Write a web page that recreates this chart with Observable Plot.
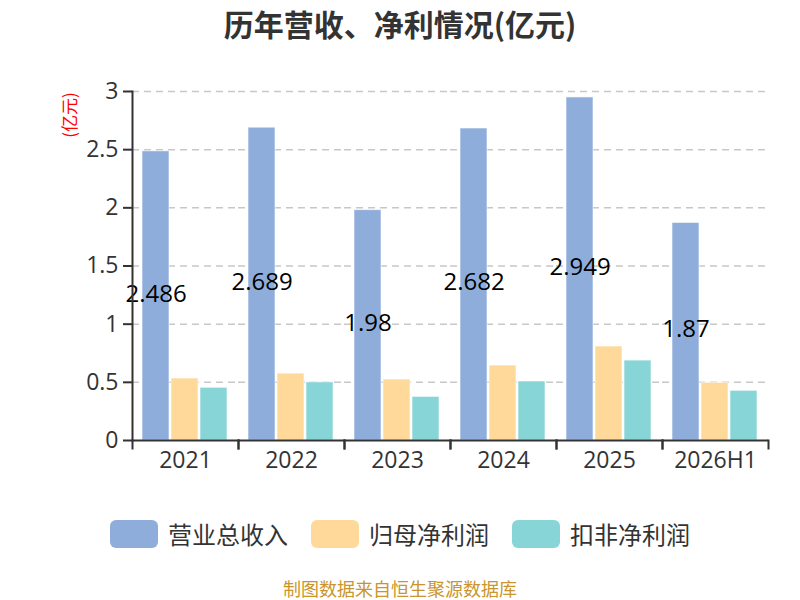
<!DOCTYPE html>
<html><head><meta charset="utf-8">
<script src="https://cdn.jsdelivr.net/npm/d3@7"></script>
<script src="https://cdn.jsdelivr.net/npm/@observablehq/plot@0.6"></script>
<style>
body{margin:0;width:800px;height:600px;position:relative;font-family:"Open Sans","Noto Sans CJK SC",sans-serif;background:#fff;overflow:hidden}
#title{position:absolute;top:0;left:0;width:800px;text-align:center;font-weight:bold;font-size:30px;color:#333;line-height:46px;font-family:"Noto Sans CJK SC",sans-serif}
#unit{position:absolute;z-index:5;left:69px;top:115px;transform:translate(-50%,-50%) rotate(-90deg);color:#f00;font-size:17px;line-height:18px;white-space:nowrap;font-family:"Noto Sans CJK SC",sans-serif}
#chart{position:absolute;top:55px;left:0}
#legend{position:absolute;top:518px;left:0;width:800px;display:flex;justify-content:center;align-items:center;gap:23px;font-size:24px;line-height:32px;color:#333;font-family:"Noto Sans CJK SC",sans-serif}
.item{display:flex;align-items:center;gap:10px}
.sw{width:48px;height:28px;border-radius:6px}
#footer{position:absolute;top:576px;left:0;width:800px;text-align:center;font-size:18px;line-height:24px;color:#c9952c;font-family:"Noto Sans CJK SC",sans-serif}
</style></head>
<body>
<div id="title">历年营收、净利情况(亿元)</div>
<div id="chart"></div>
<div id="unit">(亿元)</div>
<div id="legend"></div>
<div id="footer">制图数据来自恒生聚源数据库</div>
<script>
const years = ["2021","2022","2023","2024","2025","2026H1"];
const seriesNames = ["营业总收入","归母净利润","扣非净利润"];
const colors = ["#8eaddb","#fed99a","#88d5d8"];
const revenue = [2.486, 2.689, 1.98, 2.682, 2.949, 1.87];
const netProfit = [0.533, 0.575, 0.524, 0.644, 0.808, 0.496];
const deductedProfit = [0.453, 0.50, 0.375, 0.507, 0.687, 0.427];
const yTicks = [0, 0.5, 1, 1.5, 2, 2.5, 3];

const seriesValues = [revenue, netProfit, deductedProfit];
const table = [];
years.forEach((y, i) => seriesNames.forEach((s, j) => table.push({year: y, series: s, value: seriesValues[j][i]})));
const revTable = table.filter(d => d.series === seriesNames[0]);

const H = 435, MT = 36, MB = 50;
const chart = Plot.plot({
  width: 800, height: H,
  marginTop: MT, marginBottom: MB, marginLeft: 131, marginRight: 31,
  style: {fontSize: "23px", color: "#333", fontFamily: "'Open Sans','Noto Sans CJK SC',sans-serif", background: "#fff", overflow: "visible"},
  fx: {domain: years, paddingInner: 0, paddingOuter: 0, axis: null, label: null},
  x: {domain: seriesNames, paddingInner: 0.07, paddingOuter: 0.36, align: 0.46, axis: null},
  y: {domain: [0, 3], axis: null},
  color: {domain: seriesNames, range: colors},
  marks: [
    Plot.gridY({ticks: yTicks.filter(t => t > 0), stroke: "#c8c8c8", strokeOpacity: 1, strokeDasharray: "7,5", strokeWidth: 1.5}),
    Plot.barY(table, {fx: "year", x: "series", y: "value", fill: "series", stroke: "#fff", strokeOpacity: 0.6, strokeWidth: 1}),
    Plot.text(revTable, {fx: "year", x: "series", y: d => d.value / 2, text: d => String(d.value), fontSize: 24, fill: "#000", dy: -2}),
    Plot.ruleY([0], {stroke: "#333", strokeWidth: 2}),
    Plot.frame({anchor: "left", facetAnchor: "left", stroke: "#333", strokeWidth: 2}),
    Plot.frame({anchor: "left", insetTop: H - MT - MB, insetBottom: -8, stroke: "#333", strokeWidth: 2}),
    Plot.frame({anchor: "right", insetTop: H - MT - MB, insetBottom: -8, stroke: "#333", strokeWidth: 2}),
    Plot.axisY({ticks: yTicks, tickFormat: d => String(d), label: null, tickSize: 9, tickPadding: 5, strokeWidth: 2, fontSize: 23, fill: "#333", stroke: "#333"}),
    Plot.axisFx({anchor: "bottom", tickSize: 0, tickPadding: 11, label: null, fontSize: 23, fill: "#333"})
  ]
});
document.getElementById("chart").appendChild(chart);

const legend = document.getElementById("legend");
seriesNames.forEach((s, i) => {
  const it = document.createElement("div"); it.className = "item";
  const sw = document.createElement("div"); sw.className = "sw"; sw.style.background = colors[i];
  const tx = document.createElement("span"); tx.textContent = s;
  it.appendChild(sw); it.appendChild(tx); legend.appendChild(it);
});
</script>
</body></html>
